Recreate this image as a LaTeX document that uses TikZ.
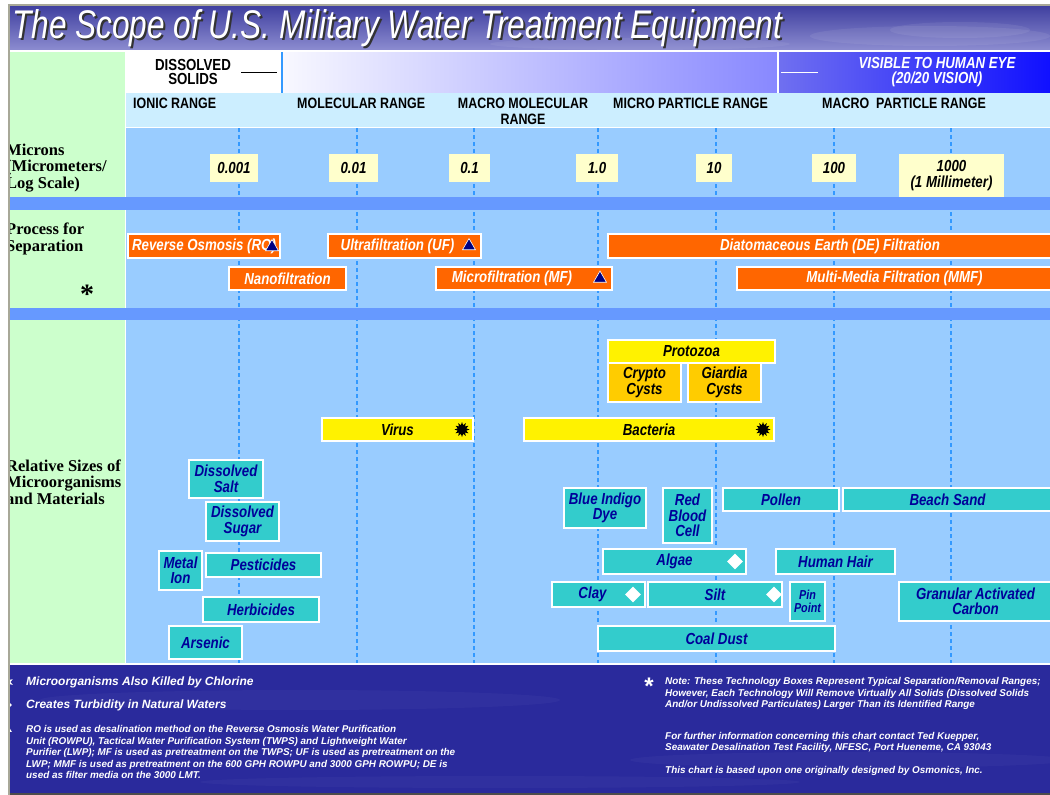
\documentclass[tikz,border=0pt]{standalone}
\usepackage{fontspec}
\setmainfont{Liberation Sans}
\newfontfamily\narrowsf[FakeStretch=0.83]{Liberation Sans}
\newfontfamily\titlesf[FakeStretch=0.79]{Liberation Sans}
\newfontfamily\sidefont{Liberation Serif}
\usetikzlibrary{positioning}
\usetikzlibrary{shapes.geometric}
\definecolor{sidec}{HTML}{CCFFCC}
\definecolor{rangec}{HTML}{CCEEFF}
\definecolor{fieldc}{HTML}{99CCFF}
\definecolor{bandc}{HTML}{6699FF}
\definecolor{tickc}{HTML}{3399FF}
\definecolor{procc}{HTML}{FF6600}
\definecolor{matc}{HTML}{33CCCC}
\definecolor{matt}{HTML}{000099}
\definecolor{cystc}{HTML}{FFCC00}
\definecolor{valc}{HTML}{FFFFCC}
\definecolor{navyc}{HTML}{000080}
\definecolor{footc}{HTML}{2A2A9C}
\definecolor{framec}{HTML}{A8A898}
\colorlet{orgc}{yellow}

\tikzset{
  box/.style={draw=white, line width=1.2pt, shape=rectangle, inner sep=0pt, outer sep=0pt,
    anchor=north west, align=center, font=\narrowsf\bfseries\itshape\fontsize{16}{15.5}\selectfont},
  procbox/.style={box, fill=procc, text=white},
  orgbox/.style={box, fill=orgc, text=black},
  cystbox/.style={box, fill=cystc, text=black},
  matbox/.style={box, fill=matc, text=matt},
  valbox/.style={shape=rectangle, fill=valc, inner sep=0pt, outer sep=0pt, anchor=north west,
    align=center, font=\narrowsf\bfseries\itshape\fontsize{16}{16}\selectfont},
  rangelbl/.style={anchor=west, inner sep=0pt, font=\narrowsf\bfseries\fontsize{15}{16}\selectfont},
  sidelbl/.style={anchor=west, inner sep=0pt, align=left, font=\sidefont\bfseries\fontsize{16.5}{16.5}\selectfont},
  tri/.style={regular polygon, regular polygon sides=3, fill=navyc, draw=white, line width=0.6pt,
    inner sep=0pt, minimum size=15pt},
  burst/.style={star, star points=12, star point ratio=1.7, fill=black, inner sep=0pt, minimum size=15pt},
  dia/.style={diamond, fill=white, inner sep=0pt, minimum size=16pt},
  foot/.style={text=white, anchor=west, inner sep=0pt, align=left, font=\bfseries\itshape\fontsize{9.9}{11.5}\selectfont},
  scaleline/.style={tickc, line width=1.2pt, dash pattern=on 4pt off 3pt},
}

\begin{document}
\begin{tikzpicture}[x=1pt, y=-1pt]
\useasboundingbox (0,0) rectangle (1050,795);
\fill[white] (0,0) rectangle (1050,795);

% title strip
\shade[top color={rgb,255:red,64;green,64;blue,160}, bottom color={rgb,255:red,140;green,140;blue,208}]
  (10,6) rectangle (1050,50);
\fill[white, opacity=0.07] (930,36) ellipse (120 and 10);
\fill[white, opacity=0.07] (960,30) ellipse (70 and 8);
\fill[white, opacity=0.06] (640,44) ellipse (150 and 6);
\fill[white] (10,50) rectangle (1050,52);

% header strip
\fill[sidec] (10,52) rectangle (125,663);
\fill[white] (125,52) rectangle (282,93);
\shade[left color={rgb,255:red,248;green,248;blue,255}, right color={rgb,255:red,136;green,136;blue,255}]
  (282,52) rectangle (778,93);
\shade[left color={rgb,255:red,112;green,112;blue,240}, right color={rgb,255:red,16;green,16;blue,255}]
  (778,52) rectangle (1050,93);
\draw[tickc, line width=1.2pt] (282,52) -- (282,93);
\draw[white, line width=1.2pt] (778,52) -- (778,93);
\fill[rangec] (125,93) rectangle (1050,127);
\fill[fieldc] (125,128) rectangle (1050,663);
\draw[white, line width=1pt] (125,52) -- (125,663);

\foreach \x in {239,357,474,598,716,834,951}
  \draw[scaleline] (\x,128) -- (\x,663);

\fill[bandc] (10,197) rectangle (1050,210);
\fill[bandc] (10,308) rectangle (1050,320);

% footer
\fill[white] (10,663) rectangle (1050,665);
\fill[footc] (10,665) rectangle (1050,793);
\fill[white, opacity=0.03] (300,700) ellipse (260 and 10);
\fill[white, opacity=0.03] (850,760) ellipse (220 and 8);
\fill[white, opacity=0.03] (500,782) ellipse (300 and 6);
\fill[black!70] (10,793) rectangle (1050,795);
\fill[framec] (8,4) rectangle (1050,6);
\fill[framec] (8,4) rectangle (10,795);

% title
\node[anchor=base west, inner sep=0pt, text=black!80, font=\titlesf\itshape\fontsize{40}{40}\selectfont]
  (titleshadow) at (14,40) {The Scope of U.S. Military Water Treatment Equipment};
\node[anchor=base west, inner sep=0pt, text=white, font=\titlesf\itshape\fontsize{40}{40}\selectfont]
  (title) at (12,38) {The Scope of U.S. Military Water Treatment Equipment};

\node[inner sep=0pt, align=center, font=\narrowsf\bfseries\fontsize{16}{14}\selectfont]
  (dissolved) at (193,72) {DISSOLVED\\SOLIDS};
\draw[black, line width=1pt] ([xshift=10pt]dissolved.east) -- ([xshift=46pt]dissolved.east);
\node[inner sep=0pt, align=center, text=white, font=\narrowsf\bfseries\itshape\fontsize{16}{15}\selectfont]
  (visible) at (937,72) {VISIBLE TO HUMAN EYE\\(20/20 VISION)};
\coordinate (eyeline) at (781,72);
\draw[white, line width=1pt] (eyeline) -- ++(37,0);

\node[rangelbl] (ionic) at (133,103) {IONIC RANGE};
\node[rangelbl] (molecular) at (297,103) {MOLECULAR RANGE};
\node[rangelbl, anchor=center, align=center] (macromol) at (523,111) {MACRO MOLECULAR\\RANGE};
\node[rangelbl] (micropart) at (613,103) {MICRO PARTICLE RANGE};
\node[rangelbl] (macropart) at (822,103) {MACRO\ \ PARTICLE RANGE};

% side labels
\begin{scope}
\clip (10,52) rectangle (124,663);
\node[sidelbl] (microns) at (6,168) {Microns\\(Micrometers/\\Log Scale)};
\node[sidelbl] (process) at (6,239) {Process for\\Separation};
\node[sidelbl] (relative) at (6,482) {Relative Sizes of\\Microorganisms\\and Materials};
\end{scope}
\node[inner sep=0pt, font=\sidefont\bfseries\fontsize{28}{28}\selectfont] (sideast) at (87,294) {*};

% micron scale
\node[valbox, minimum width=48pt, minimum height=28pt] (v0001) at (210,154) {0.001};
\node[valbox, minimum width=49pt, minimum height=28pt] (v001) at (329,154) {0.01};
\node[valbox, minimum width=41pt, minimum height=28pt] (v01) at (449,154) {0.1};
\node[valbox, minimum width=42pt, minimum height=28pt] (v1) at (576,154) {1.0};
\node[valbox, minimum width=36pt, minimum height=28pt] (v10) at (696,154) {10};
\node[valbox, minimum width=44pt, minimum height=28pt] (v100) at (812,154) {100};
\node[valbox, minimum width=105pt, minimum height=43pt] (v1000) at (899,154) {1000\\(1 Millimeter)};

% separation processes
\node[procbox, minimum width=152pt, minimum height=24pt] (ro) at (128,234) {Reverse Osmosis (RO)};
\node[tri] (rotri) at ([xshift=-8pt, yshift=-1pt]ro.east) {};
\node[procbox, minimum width=117pt, minimum height=23pt] (nano) at (229,267) {Nanofiltration};
\node[procbox, minimum width=153pt, minimum height=24pt] (uf) at (328,234) {Ultrafiltration (UF)\hspace*{14pt}};
\node[tri] (uftri) at ([xshift=-12pt]uf.east) {};
\node[procbox, minimum width=176pt, minimum height=23pt] (mf) at (436,267) {Microfiltration (MF)\hspace*{24pt}};
\node[tri] (mftri) at ([xshift=-12pt]mf.east) {};
\node[procbox, minimum width=444pt, minimum height=24pt] (de) at (608,234) {Diatomaceous Earth (DE) Filtration};
\node[procbox, minimum width=315pt, minimum height=23pt] (mmf) at (737,267) {Multi-Media Filtration (MMF)};

% microorganisms
\node[orgbox, minimum width=167pt, minimum height=23pt] (protozoa) at (608,340) {Protozoa};
\node[cystbox, minimum width=73pt, minimum height=39pt] (crypto) at (608,363) {Crypto\\Cysts};
\node[cystbox, minimum width=73pt, minimum height=39pt] (giardia) at (688,363) {Giardia\\Cysts};
\node[orgbox, minimum width=151pt, minimum height=23pt] (virus) at (322,418) {Virus};
\node[burst] (virusstar) at ([xshift=-11pt]virus.east) {};
\node[orgbox, minimum width=250pt, minimum height=23pt] (bacteria) at (524,418) {Bacteria};
\node[burst] (bacstar) at ([xshift=-11pt]bacteria.east) {};

% materials
\node[matbox, minimum width=74pt, minimum height=38pt] (salt) at (189,460) {Dissolved\\Salt};
\node[matbox, minimum width=73pt, minimum height=39pt] (sugar) at (206,502) {Dissolved\\Sugar};
\node[matbox, minimum width=43pt, minimum height=39pt] (metal) at (159,551) {Metal\\Ion};
\node[matbox, minimum width=115pt, minimum height=24pt] (pest) at (206,553) {Pesticides};
\node[matbox, minimum width=116pt, minimum height=25pt] (herb) at (203,597) {Herbicides};
\node[matbox, minimum width=73pt, minimum height=33pt] (arsenic) at (169,626) {Arsenic};
\node[matbox, minimum width=82pt, minimum height=40pt] (indigo) at (564,488) {Blue Indigo\\Dye};
\node[matbox, minimum width=49pt, minimum height=55pt] (blood) at (663,488) {Red\\Blood\\Cell};
\node[matbox, minimum width=116pt, minimum height=23pt] (pollen) at (723,488) {Pollen};
\node[matbox, minimum width=209pt, minimum height=23pt] (sand) at (843,488) {Beach Sand};
\node[matbox, minimum width=143pt, minimum height=25pt] (algae) at (603,549) {Algae};
\node[dia] (algaedia) at ([xshift=-11pt]algae.east) {};
\node[matbox, minimum width=119pt, minimum height=25pt] (hair) at (776,549) {Human Hair};
\node[matbox, minimum width=93pt, minimum height=25pt] (clay) at (552,582) {Clay\hspace*{12pt}};
\node[dia] (claydia) at ([xshift=-12pt]clay.east) {};
\node[matbox, minimum width=134pt, minimum height=25pt] (silt) at (648,582) {Silt};
\node[dia] (siltdia) at ([xshift=-8pt]silt.east) {};
\node[matbox, minimum width=35pt, minimum height=39pt, font=\narrowsf\bfseries\itshape\fontsize{13}{13}\selectfont]
  (pin) at (790,582) {Pin\\Point};
\node[matbox, minimum width=153pt, minimum height=39pt] (gac) at (899,582) {Granular Activated\\Carbon};
\node[matbox, minimum width=237pt, minimum height=25pt] (coal) at (598,626) {Coal Dust};

% footer notes
\begin{scope}
\clip (10,665) rectangle (1050,793);
\node[star, star points=6, star point ratio=2.2, fill=white, inner sep=0pt, minimum size=11pt] (keystar) at (8,682) {};
\node[dia, minimum size=10pt] (keydia) at (7,705) {};
\node[regular polygon, regular polygon sides=3, fill=white, inner sep=0pt, minimum size=11pt] (keytri) at (7,729) {};
\end{scope}
\node[foot, font=\bfseries\itshape\fontsize{12}{13}\selectfont] (chlorine) at (26,682) {Microorganisms Also Killed by Chlorine};
\node[foot, font=\bfseries\itshape\fontsize{12}{13}\selectfont] (turbidity) at (26,705) {Creates Turbidity in Natural Waters};
\node[foot] (rouse) at (26,752) {RO is used as desalination method on the Reverse Osmosis Water Purification\\
  Unit (ROWPU), Tactical Water Purification System (TWPS) and Lightweight Water\\
  Purifier (LWP); MF is used as pretreatment on the TWPS; UF is used as pretreatment on the\\
  LWP; MMF is used as pretreatment on the 600 GPH ROWPU and 3000 GPH ROWPU; DE is\\
  used as filter media on the 3000 LMT.};
\node[inner sep=0pt, text=white, font=\bfseries\fontsize{24}{24}\selectfont] (noteast) at (649,686) {*};
\node[foot] (note1) at (665,682) {Note: These Technology Boxes Represent Typical Separation/Removal Ranges;};
\node[foot] (note2) at (665,693.5) {However, Each Technology Will Remove Virtually All Solids (Dissolved Solids};
\node[foot] (note3) at (665,705) {And/or Undissolved Particulates) Larger Than its Identified Range};
\node[foot] (contact) at (665,742.5) {For further information concerning this chart contact Ted Kuepper,\\
  Seawater Desalination Test Facility, NFESC, Port Hueneme, CA 93043};
\node[foot] (osmonics) at (665,771) {This chart is based upon one originally designed by Osmonics, Inc.};

\end{tikzpicture}
\end{document}
